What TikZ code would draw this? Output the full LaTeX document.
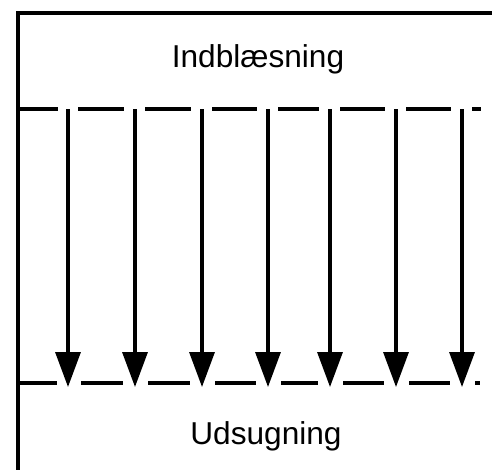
\documentclass[tikz,border=0pt]{standalone}
\usepackage{fontspec}
\setmainfont{Liberation Sans}
\usetikzlibrary{arrows.meta}

\tikzset{
  wall/.style={line width=2.2pt},
  flow/.style={line width=1.9pt, -{Triangle[length=0.7cm, width=0.5cm]}},
  label/.style={font=\fontsize{18}{20}\selectfont, anchor=base}
}

\begin{document}
\begin{tikzpicture}[x=0.02cm, y=-0.02cm]
\useasboundingbox (0,0) rectangle (492,470);
% outer walls
\draw[wall] (492,13) -- (18,13) -- (18,470);
% texts
\node[label] (ind) at (258,67) {Indblæsning};
\node[label] (uds) at (266,444) {Udsugning};
% dashed lines
\draw[wall] (18,109) -- (58,109);
\draw[wall] (18,383) -- (57,383);
\foreach \a/\b [count=\i] in {68/135,135/202,202/268,268/330,330/396,396/462,462/492}{
  \draw[wall] (\a+10,109) -- (\b-11,109);
  \draw[wall] (\a+13,383) -- (\b-12,383);
}
% arrows
\foreach \x [count=\i] in {68,135,202,268,330,396,462}{
  \coordinate (t\i) at (\x,109);
  \coordinate (b\i) at (\x,387);
  \draw[flow] (t\i) -- (b\i);
}
\end{tikzpicture}
\end{document}
